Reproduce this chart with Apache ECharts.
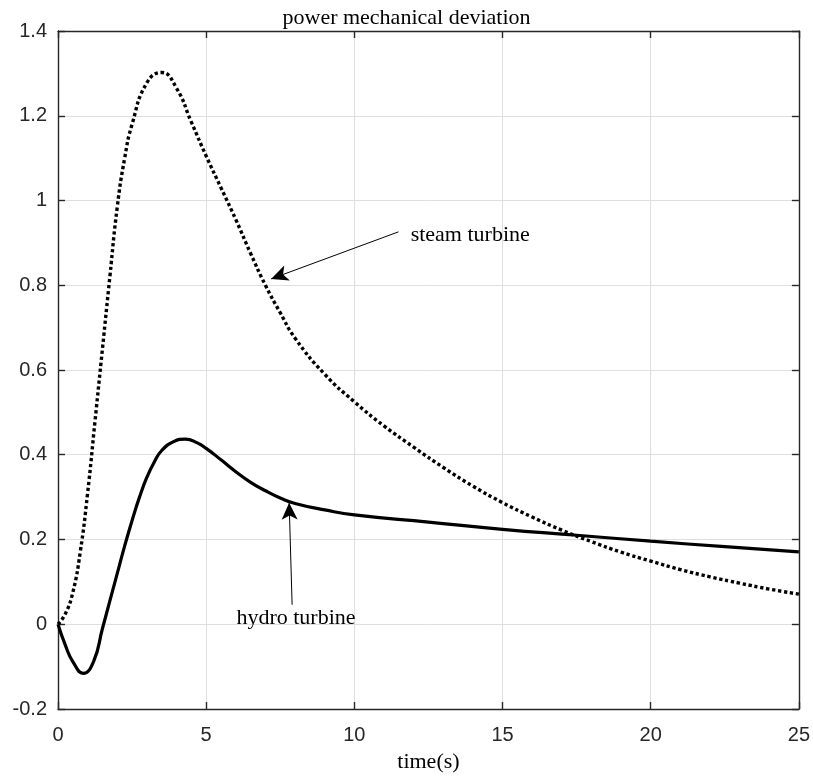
<!DOCTYPE html>
<html><head><meta charset="utf-8">
<script src="https://cdn.jsdelivr.net/npm/echarts@6/dist/echarts.min.js"></script>
<style>html,body{margin:0;padding:0;background:#fff}#c{width:813px;height:778px}</style>
</head><body><div id="c"></div>
<script>
var steamT = [0,0.25,0.5,0.75,1,1.25,1.5,1.75,2,2.25,2.5,3,3.5,4,4.5,5,5.5,6,6.5,7,7.5,8,9,10,11,12,13,14,15,16,17,18,19,20,21,22,23,24,25];
var steamV = [0,0.025,0.075,0.17,0.31,0.48,0.65,0.82,0.985,1.10,1.18,1.278,1.302,1.265,1.185,1.105,1.03,0.955,0.875,0.80,0.735,0.675,0.59,0.525,0.468,0.418,0.37,0.326,0.287,0.253,0.222,0.195,0.17,0.149,0.129,0.112,0.097,0.083,0.071];
var hydroT = [0,0.25,0.5,0.85,1.2,1.5,1.75,2,2.25,2.5,2.75,3,3.25,3.5,3.9,4.3,4.7,5,5.5,6,6.5,7,7.5,8,9,10,12.5,15,17.5,20,22.5,25];
var hydroV = [0,-0.05,-0.088,-0.116,-0.088,-0.01,0.055,0.12,0.185,0.245,0.30,0.347,0.383,0.41,0.431,0.437,0.428,0.415,0.388,0.36,0.335,0.315,0.298,0.285,0.27,0.258,0.241,0.224,0.21,0.196,0.183,0.171];
var xTicks = [0,5,10,15,20,25];
var yTicks = [-0.2,0,0.2,0.4,0.6,0.8,1,1.2,1.4];
var titleText = 'power mechanical deviation';
var xName = 'time(s)';
var steamLabel = 'steam turbine';
var hydroLabel = 'hydro turbine';
var steamArrow = [[11.49,0.926],[7.19,0.815]];
var hydroArrow = [[7.9,0.046],[7.8,0.287]];
var steamLabelPos = [11.9,0.919];
var hydroLabelPos = [8.03,0.015];

function zip(a,b){return a.map(function(v,i){return [v,b[i]];});}
var axisCol = '#262626';
var chart = echarts.init(document.getElementById('c'));
var commonX = {type:'value',min:xTicks[0],max:xTicks[xTicks.length-1],interval:5};
var commonY = {type:'value',min:yTicks[0],max:yTicks[yTicks.length-1],interval:0.2};
function frameAxis(){
  return {axisLine:{show:true,onZero:false,lineStyle:{color:axisCol,width:1.4}},
    axisTick:{show:true,inside:true,length:7,lineStyle:{color:axisCol,width:1.4}},
    axisLabel:{show:false},splitLine:{show:false}};
}
chart.setOption({
  animation:false,
  title:{text:titleText,left:'center',top:2,textStyle:{fontFamily:'Liberation Serif',fontSize:22,fontWeight:'normal',color:'#000'}},
  grid:{left:58,right:11,top:31,bottom:69,containLabel:false},
  xAxis:[
    Object.assign({},commonX,{position:'bottom',name:xName,nameLocation:'middle',nameGap:42,
      nameTextStyle:{fontFamily:'Liberation Serif',fontSize:22,color:'#000'},
      axisLine:{show:true,onZero:false,lineStyle:{color:axisCol,width:1.4}},
      axisTick:{show:true,inside:true,length:7,lineStyle:{color:axisCol,width:1.4}},
      axisLabel:{fontFamily:'Liberation Sans',fontSize:20,color:axisCol,margin:16},
      splitLine:{show:true,lineStyle:{color:'#dfdfdf',width:1}}}),
    Object.assign({},commonX,{position:'top'},frameAxis())
  ],
  yAxis:[
    Object.assign({},commonY,{position:'left',
      axisLine:{show:true,onZero:false,lineStyle:{color:axisCol,width:1.4}},
      axisTick:{show:true,inside:true,length:7,lineStyle:{color:axisCol,width:1.4}},
      axisLabel:{fontFamily:'Liberation Sans',fontSize:20,color:axisCol,margin:11},
      splitLine:{show:true,lineStyle:{color:'#dfdfdf',width:1}}}),
    Object.assign({},commonY,{position:'right'},frameAxis())
  ],
  series:[
    {type:'line',name:'steam',data:zip(steamT,steamV),smooth:0.5,showSymbol:false,
      lineStyle:{color:'#000',width:3.4,type:[3.3,2.7],cap:'butt'},
      markLine:{silent:true,symbol:['none','arrow'],symbolSize:[12,17],
        lineStyle:{color:'#000',width:1,type:'solid'},label:{show:false},
        data:[[{coord:steamArrow[0]},{coord:steamArrow[1]}]]},
      markPoint:{silent:true,symbol:'circle',symbolSize:0,
        label:{show:true,position:'right',distance:0,formatter:steamLabel,fontFamily:'Liberation Serif',fontSize:22,color:'#000'},
        data:[{coord:steamLabelPos}]}},
    {type:'line',name:'hydro',data:zip(hydroT,hydroV),smooth:0.5,showSymbol:false,
      lineStyle:{color:'#000',width:3.2},
      markLine:{silent:true,symbol:['none','arrow'],symbolSize:[12,17],
        lineStyle:{color:'#000',width:1,type:'solid'},label:{show:false},
        data:[[{coord:hydroArrow[0]},{coord:hydroArrow[1]}]]},
      markPoint:{silent:true,symbol:'circle',symbolSize:0,
        label:{show:true,position:'inside',formatter:hydroLabel,fontFamily:'Liberation Serif',fontSize:22,color:'#000'},
        data:[{coord:hydroLabelPos}]}}
  ]
});
</script></body></html>
